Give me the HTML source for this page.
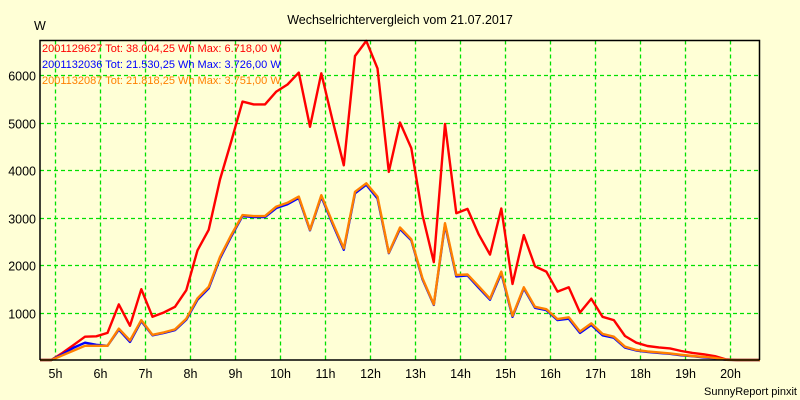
<!DOCTYPE html>
<html><head><meta charset="utf-8"><style>
body{margin:0;background:#ffffd6;}
svg{display:block;font-family:"Liberation Sans",sans-serif;}
</style></head><body>
<svg id="chart" width="800" height="400" xmlns="http://www.w3.org/2000/svg">
<rect x="0" y="0" width="800" height="400" fill="#ffffd6"/>
<text x="400" y="24" text-anchor="middle" font-size="12.5" fill="#000">Wechselrichtervergleich vom 21.07.2017</text>
<text x="34" y="30" font-size="12.5" fill="#000">W</text>
<g id="grid"></g>
<g id="series"></g>
<g id="axes"></g>
<g font-size="11">
<text x="42" y="52" fill="#ff0000">2001129627 Tot: 38.004,25 Wh Max: 6.718,00 W</text>
<text x="42" y="68" fill="#0000ff">2001132036 Tot: 21.530,25 Wh Max: 3.726,00 W</text>
<text x="42" y="84" fill="#ff8000">2001132087 Tot: 21.818,25 Wh Max: 3.751,00 W</text>
</g>
<text x="797" y="395" text-anchor="end" font-size="11" fill="#000">SunnyReport pinxit</text>
</svg>
<script>
const times = ["4:40","4:55","5:10","5:25","5:40","5:55","6:10","6:25","6:40","6:55","7:10","7:25","7:40","7:55","8:10","8:25","8:40","8:55","9:10","9:25","9:40","9:55","10:10","10:25","10:40","10:55","11:10","11:25","11:40","11:55","12:10","12:25","12:40","12:55","13:10","13:25","13:40","13:55","14:10","14:25","14:40","14:55","15:10","15:25","15:40","15:55","16:10","16:25","16:40","16:55","17:10","17:25","17:40","17:55","18:10","18:25","18:40","18:55","19:10","19:25","19:40","19:55","20:10","20:25","20:40"];
const red = [0,0,150,320,490,500,570,1170,720,1490,910,1000,1120,1470,2310,2740,3800,4600,5440,5380,5380,5650,5800,6050,4910,6035,5050,4100,6400,6718,6140,3960,5000,4460,3050,2060,4970,3090,3180,2640,2220,3190,1600,2630,1970,1860,1440,1530,1000,1290,910,840,505,365,295,265,245,190,150,120,80,10,0,0,0];
const blue = [0,0,120,260,365,320,300,640,380,820,520,570,630,850,1270,1510,2140,2600,3030,3010,3010,3200,3280,3410,2730,3440,2870,2320,3510,3690,3400,2250,2760,2520,1700,1160,2850,1760,1780,1520,1270,1830,910,1510,1100,1050,840,870,570,740,520,470,260,200,170,150,130,100,80,55,35,5,0,0,0];
const orange = [0,0,100,200,300,300,300,660,410,840,530,580,645,870,1300,1540,2170,2630,3050,3030,3030,3230,3310,3440,2740,3470,2900,2350,3540,3720,3440,2260,2790,2540,1720,1170,2880,1790,1800,1550,1290,1860,930,1530,1120,1070,860,900,600,770,550,490,280,210,180,160,140,110,85,65,45,5,0,0,0];
const yTicks = [1000,2000,3000,4000,5000,6000];
const xTicks = [5,6,7,8,9,10,11,12,13,14,15,16,17,18,19,20];

const NS="http://www.w3.org/2000/svg";
const L=40,R=759.5,T=40.5,B=360;
function xs(h){return 55+(h-5)*45;}
function ys(v){return B-v*0.0475;}
function hours(s){const p=s.split(":");return +p[0]+(+p[1])/60;}
const grid=document.getElementById("grid"),axes=document.getElementById("axes"),series=document.getElementById("series");
function mk(tag,attrs,parent){const e=document.createElementNS(NS,tag);for(const k in attrs)e.setAttribute(k,attrs[k]);parent.appendChild(e);return e;}
xTicks.forEach(h=>{
  const x=Math.round(xs(h))+0.5;
  const g=mk("line",{x1:x,x2:x,y1:T,y2:B,stroke:"#00e000","stroke-width":1.3,"stroke-dasharray":"4,3"},grid);
  
  
  const t=mk("text",{x:x,y:378,"text-anchor":"middle","font-size":12.5,fill:"#000"},axes);
  t.textContent=h+"h";
  
  
});
yTicks.forEach(v=>{
  const y=Math.round(ys(v))+0.5;
  const g=mk("line",{x1:L,x2:R,y1:y,y2:y,stroke:"#00e000","stroke-width":1.3,"stroke-dasharray":"4,3"},grid);
  
  
  const t=mk("text",{x:36,y:y+5,"text-anchor":"end","font-size":12.5,fill:"#000"},axes);
  t.textContent=v;
  
  
});
const frame=mk("polyline",{points:`${L},${B} ${L},${T} ${R},${T} ${R},${B}`,fill:"none",stroke:"#000","stroke-width":1.5},axes);


const xAxis=mk("line",{x1:L,x2:R,y1:B,y2:B,stroke:"#000","stroke-width":1.5},axes);


function draw(vals,color,name){
  const pts=vals.map((v,i)=>xs(hours(times[i])).toFixed(1)+","+ys(v).toFixed(1)).join(" ");
  const p=mk("polyline",{points:pts,fill:"none",stroke:color,"stroke-width":2.4,"stroke-linejoin":"round"},series);
  
  
}
draw(red,"#ff0000","series-2001129627");
draw(blue,"#0000ff","series-2001132036");
draw(orange,"#ff8000","series-2001132087");
</script>
</body></html>
